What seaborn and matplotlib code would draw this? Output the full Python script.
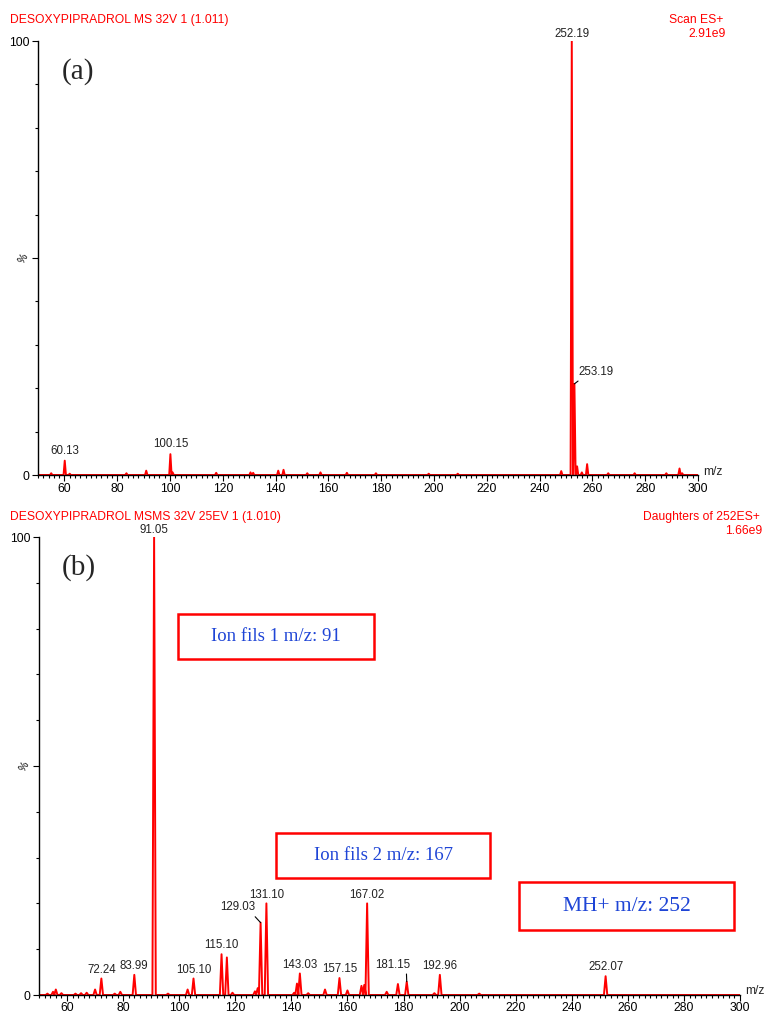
import numpy as np
import pandas as pd
import matplotlib
matplotlib.use("Agg")
import matplotlib.pyplot as plt
import seaborn as sns
from matplotlib.patches import Rectangle
from matplotlib.ticker import MultipleLocator

sns.set_theme(style="ticks")
plt.rcParams['font.family'] = ['Liberation Sans', 'DejaVu Sans']

# ---------------- data ----------------
# Panel (a): full scan MS
mz_a = [55.0, 60.13, 62.0, 83.5, 91.0, 100.15, 101.0, 117.5, 130.5, 131.5, 141.0, 143.0,
        152.0, 157.0, 167.0, 178.0, 198.0, 209.0, 248.2, 252.19, 253.19, 254.2,
        256.0, 258.0, 266.0, 276.0, 288.0, 293.0, 294.0]
int_a = [0.4, 3.3, 0.3, 0.4, 1.0, 4.8, 0.6, 0.5, 0.6, 0.5, 1.0, 1.2,
         0.4, 0.6, 0.5, 0.4, 0.3, 0.3, 0.9, 100.0, 21.0, 2.0,
         0.6, 2.5, 0.4, 0.4, 0.4, 1.5, 0.4]
labels_a = ["60.13", "100.15", "252.19", "253.19"]

# Panel (b): daughters of 252
mz_b = [53.0, 55.0, 56.0, 58.0, 63.0, 65.0, 67.0, 70.0, 72.24, 77.0, 79.0, 83.99,
        91.05, 96.0, 103.0, 105.10, 115.10, 117.0, 119.0, 127.0, 128.0, 129.03, 131.10,
        141.0, 142.0, 143.03, 146.0, 152.0, 157.15, 160.0, 165.0, 166.0, 167.02, 174.0,
        178.0, 181.15, 191.0, 192.96, 207.0, 252.07]
int_b = [0.3, 0.7, 1.2, 0.4, 0.3, 0.4, 0.5, 1.2, 3.6, 0.3, 0.7, 4.4,
         100.0, 0.3, 1.2, 3.6, 8.9, 8.2, 0.5, 0.8, 1.5, 15.8, 20.0,
         0.5, 2.5, 4.7, 0.4, 1.2, 3.7, 1.0, 2.0, 2.2, 20.0, 0.7,
         2.4, 2.9, 0.4, 4.4, 0.3, 4.1]
labels_b = ["72.24", "83.99", "91.05", "105.10", "115.10", "129.03", "131.10",
            "143.03", "157.15", "167.02", "181.15", "192.96", "252.07"]

xticks = [60, 80, 100, 120, 140, 160, 180, 200, 220, 240, 260, 280, 300]

RED = "#ff0000"
BLUE = "#1f45d6"
LBL = 8.3
TICK = 8.7


def profile(mz, inten, hw):
    xs, ys = [50.0], [0.0]
    for m, h in sorted(zip(mz, inten)):
        xs += [m - hw, m, m + hw]
        ys += [0.0, h, 0.0]
    xs.append(300.0)
    ys.append(0.0)
    return pd.DataFrame({"mz": xs, "pct": ys})


W, H = 764, 1013
fig = plt.figure(figsize=(W / 100, H / 100), dpi=100)


def px_axes(l, r, t, b):
    return fig.add_axes([l / W, 1 - b / H, (r - l) / W, (b - t) / H])


ax_a = px_axes(38, 698, 41, 475)
ax_b = px_axes(39, 740, 537, 995)

for ax, mz, inten, hw, pad in [(ax_a, mz_a, int_a, 0.45, 2), (ax_b, mz_b, int_b, 0.6, 1)]:
    df = profile(mz, inten, hw)
    sns.lineplot(data=df, x="mz", y="pct", ax=ax, color=RED, lw=1.4,
                 estimator=None, sort=False)
    ax.set_xlim(50, 300)
    ax.set_ylim(0, 100)
    ax.set_xlabel("")
    ax.set_ylabel("")
    sns.despine(ax=ax)
    for s in ["left", "bottom"]:
        ax.spines[s].set_linewidth(1.0)
        ax.spines[s].set_color("black")
    ax.set_xticks(xticks)
    ax.set_xticklabels([str(t) for t in xticks], fontsize=TICK)
    ax.xaxis.set_minor_locator(MultipleLocator(2))
    ax.set_yticks([0, 50, 100])
    ax.set_yticklabels(["0", "%", "100"], fontsize=TICK)
    ax.get_yticklabels()[1].set_rotation(60)
    ax.get_yticklabels()[1].set_fontsize(7.5)
    ax.get_yticklabels()[1].set_va("center")
    ax.yaxis.set_minor_locator(MultipleLocator(10))
    ax.tick_params(axis="y", which="major", length=4, width=0.8, colors="black", pad=2)
    ax.tick_params(axis="x", which="major", length=4, width=0.8, colors="black", pad=pad)
    ax.tick_params(axis="both", which="minor", length=2.5, width=0.8, colors="black")
    ax.text(1.008, 0.008, "m/z", transform=ax.transAxes, fontsize=TICK,
            ha="left", va="center", clip_on=False)
    ax.set_facecolor("white")


def lab(ax, text, x, y, dx=0, dy=3, leader=None):
    if leader is None:
        ax.annotate(text, (x, y), xytext=(dx, dy), textcoords="offset points",
                    ha="center", va="bottom", fontsize=LBL, color="#222222",
                    annotation_clip=False)
    else:
        ax.annotate(text, (x, y), xytext=leader, textcoords="data",
                    ha="center", va="bottom", fontsize=LBL, color="#222222",
                    annotation_clip=False,
                    arrowprops=dict(arrowstyle="-", lw=0.8, color="black",
                                    shrinkA=0, shrinkB=0,
                                    relpos=(0.1, 0.0)))


pk_a = dict(zip(mz_a, int_a))
lab(ax_a, labels_a[0], 60.13, pk_a[60.13])
lab(ax_a, labels_a[1], 100.15, pk_a[100.15])
lab(ax_a, labels_a[2], 252.19, pk_a[252.19], dy=1)
lab(ax_a, labels_a[3], 253.19, pk_a[253.19], leader=(261.5, 22.4))

pk_b = dict(zip(mz_b, int_b))
for t in labels_b:
    m = float(t)
    if t == "129.03":
        ax_b.annotate(t, (m, pk_b[m]), xytext=(121.0, 17.8), textcoords="data",
                      ha="center", va="bottom", fontsize=LBL, color="#222222",
                      annotation_clip=False,
                      arrowprops=dict(arrowstyle="-", lw=0.8, color="black",
                                      shrinkA=0, shrinkB=0, relpos=(0.9, 0.0)))
    elif t == "181.15":
        ax_b.annotate(t, (m, pk_b[m]), xytext=(176.0, 5.3), textcoords="data",
                      ha="center", va="bottom", fontsize=LBL, color="#222222",
                      annotation_clip=False,
                      arrowprops=dict(arrowstyle="-", lw=0.8, color="black",
                                      shrinkA=0, shrinkB=0, relpos=(0.9, 0.0)))
    else:
        lab(ax_b, t, m, pk_b[m], dy=2 if m != 91.05 else 1)

# headers
HF = 8.7
fig.text(10 / W, 1 - 20 / H, "DESOXYPIPRADROL MS 32V 1 (1.011)", color=RED,
         fontsize=HF, ha="left", va="center")
fig.text(723 / W, 1 - 20 / H, "Scan ES+", color=RED, fontsize=HF,
         ha="right", va="center")
fig.text(726 / W, 1 - 34 / H, "2.91e9", color=RED, fontsize=HF,
         ha="right", va="center")
fig.text(10 / W, 1 - 517 / H, "DESOXYPIPRADROL MSMS 32V 25EV 1 (1.010)", color=RED,
         fontsize=HF, ha="left", va="center")
fig.text(643 / W, 1 - 517 / H, "Daughters of 252ES+", color=RED, fontsize=HF,
         ha="left", va="center")
fig.text(762 / W, 1 - 531 / H, "1.66e9", color=RED, fontsize=HF,
         ha="right", va="center")

# panel letters
fig.text(62 / W, 1 - 72 / H, "(a)", fontsize=21, family="Liberation Serif",
         ha="left", va="center")
fig.text(62 / W, 1 - 568 / H, "(b)", fontsize=21, family="Liberation Serif",
         ha="left", va="center")

# annotation boxes
for (l, r, t, b, txt, fs) in [(178, 374, 614, 659, "Ion fils 1 m/z: 91", 13.5),
                              (276, 490, 833, 878, "Ion fils 2 m/z: 167", 13.5),
                              (519, 734, 882, 930, "MH+ m/z: 252", 15.5)]:
    fig.patches.append(Rectangle((l / W, 1 - b / H), (r - l) / W, (b - t) / H,
                                 transform=fig.transFigure, fill=False,
                                 edgecolor=RED, lw=1.8))
    fig.text((l + r) / 2 / W, 1 - (t + b) / 2 / H, txt, color=BLUE, fontsize=fs,
             family="Liberation Serif", ha="center", va="center")

fig.savefig("out.png", dpi=100, facecolor="white")
